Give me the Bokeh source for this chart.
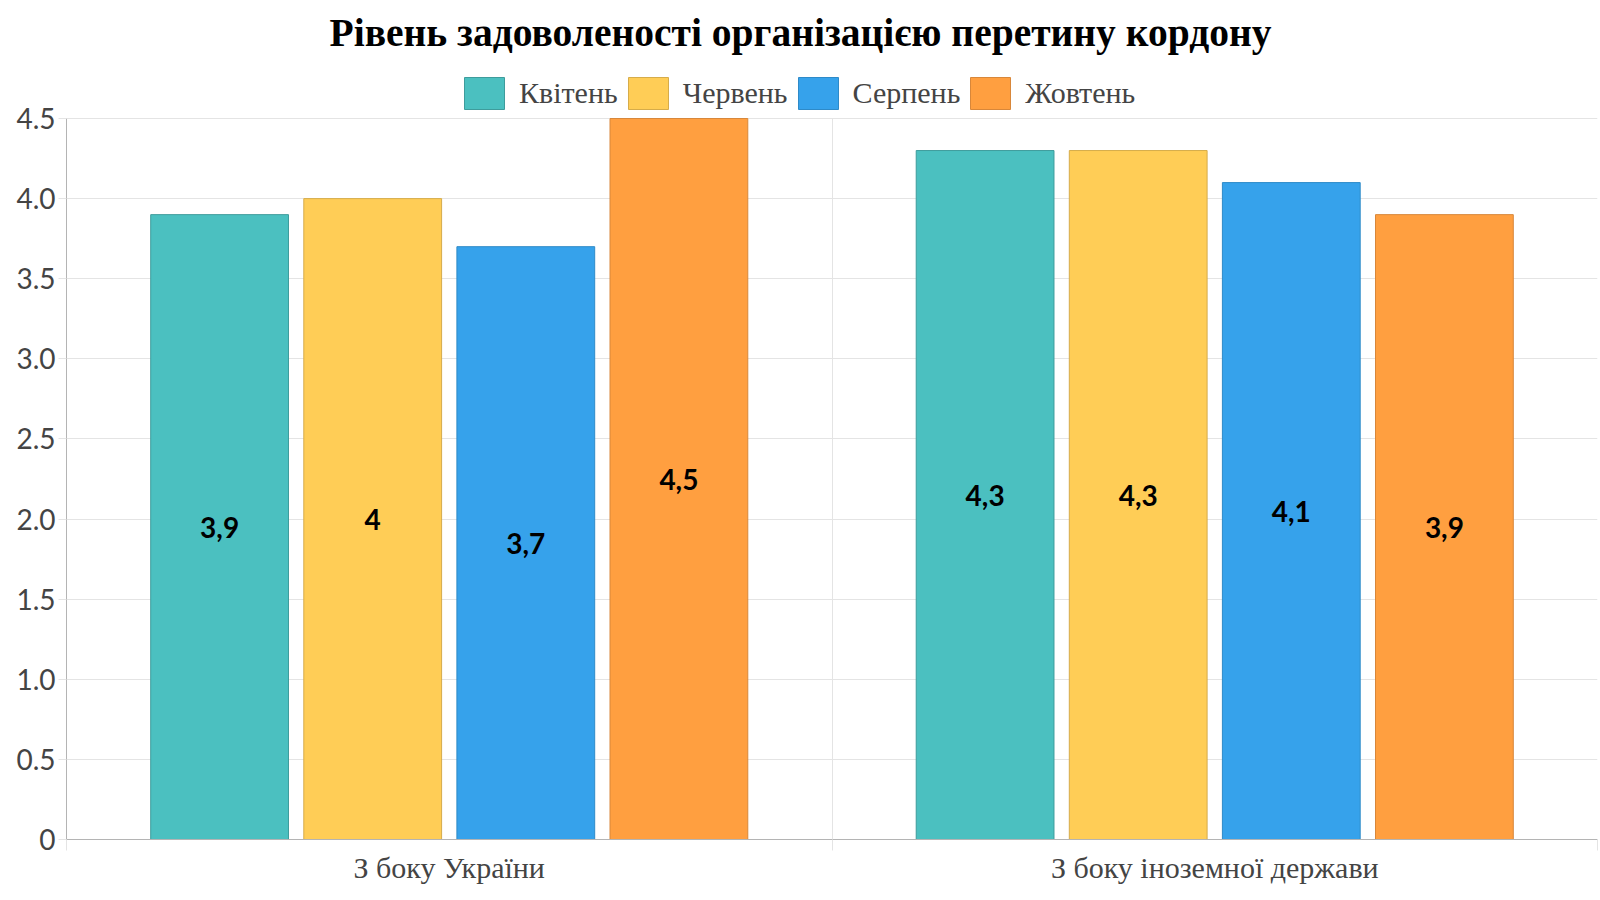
from bokeh.plotting import figure
from bokeh.models import (ColumnDataSource, Range1d, FixedTicker, LinearAxis, Grid,
                          Legend, LegendItem, CustomJSTickFormatter, Label)
from bokeh.transform import dodge
from bokeh.core.properties import value
from bokeh.embed import file_html
from bokeh.resources import INLINE

# ---- data ----
title_text = "Рівень задоволеності організацією перетину кордону"
categories = ["З боку України", "З боку іноземної держави"]
months = ["Квітень", "Червень", "Серпень", "Жовтень"]
kviten = [3.9, 4.3]
cherven = [4.0, 4.3]
serpen = [3.7, 4.1]
zhovten = [4.5, 3.9]
y_ticks = [0, 0.5, 1.0, 1.5, 2.0, 2.5, 3.0, 3.5, 4.0, 4.5]

series = [kviten, cherven, serpen, zhovten]
fills = ["#4BC0C0", "#FFCD56", "#36A2EB", "#FF9F40"]
borders = ["#3E9C9C", "#D6AC4A", "#2E8AC8", "#D8873A"]

# ---- layout (pixels) ----
W, H = 1600, 900
FRAME_LEFT, FRAME_RIGHT_GAP, BOTTOM_GAP = 66, 3, 61
HEADER_PX = 118                      # room kept above the value area for title + legend
FRAME_PX = H - BOTTOM_GAP            # frame runs from the top of the page to the x axis
Y_MAX = y_ticks[-1]
Y_TOP = Y_MAX * FRAME_PX / (FRAME_PX - HEADER_PX)

N_SERIES = len(months)
SLOT = 0.8 / N_SERIES                # width of one bar slot inside a category
BAR_W = SLOT * 0.9

# legend swatches are drawn inset by 10% of the glyph box on each side
KEY_W, KEY_H = 50, 40                # -> visible swatch 40 x 32


def fmt(v):
    return ("%g" % v).replace(".", ",")


p = figure(width=W, height=H,
           x_range=Range1d(0, len(categories)), y_range=Range1d(0, Y_TOP),
           x_axis_location=None, y_axis_location=None,
           output_backend="svg", toolbar_location=None,
           min_border_left=FRAME_LEFT, min_border_right=FRAME_RIGHT_GAP,
           min_border_bottom=BOTTOM_GAP, min_border_top=0)
p.outline_line_color = None
p.background_fill_color = "white"
p.border_fill_color = "white"
for g in p.grid:
    g.visible = False

boundaries = list(range(len(categories) + 1))
centers = [i + 0.5 for i in range(len(categories))]

# grid lines: category boundaries vertically, value ticks horizontally
p.add_layout(Grid(dimension=0, ticker=FixedTicker(ticks=boundaries),
                  cross_bounds=(0, Y_MAX),
                  grid_line_color="#e4e4e4", grid_line_width=1))
p.add_layout(Grid(dimension=1, ticker=FixedTicker(ticks=y_ticks),
                  grid_line_color="#e4e4e4", grid_line_width=1))

items = []
for j, (name, vals) in enumerate(zip(months, series)):
    src = ColumnDataSource(dict(x=centers, top=vals, mid=[v / 2 for v in vals],
                                label=[fmt(v) for v in vals]))
    off = (j - (N_SERIES - 1) / 2) * SLOT
    r = p.vbar(x=dodge("x", off, range=p.x_range), top="top", bottom=0, width=BAR_W,
               source=src, fill_color=fills[j], line_color=borders[j], line_width=1)
    p.text(x=dodge("x", off, range=p.x_range), y="mid", text="label", source=src,
           text_align="center", text_baseline="middle",
           text_font=value("Lato"), text_font_style="bold",
           text_font_size=value("28px"), text_color="#000000")
    items.append(LegendItem(label=name, renderers=[r]))

# y axis
yaxis = LinearAxis(ticker=FixedTicker(ticks=y_ticks), bounds=(0, Y_MAX),
                   formatter=CustomJSTickFormatter(code="return tick == 0 ? '0' : tick.toFixed(1);"),
                   axis_line_color="#b4b4b4", major_tick_line_color="#e4e4e4",
                   major_tick_out=8, major_tick_in=0, minor_tick_line_color=None,
                   major_label_standoff=3, major_label_text_font="Lato",
                   major_label_text_font_size="28px", major_label_text_color="#444444")
p.add_layout(yaxis, "left")

# x axis: category names at centres, short marks at category boundaries
xaxis = LinearAxis(ticker=FixedTicker(ticks=centers, minor_ticks=boundaries),
                   formatter=CustomJSTickFormatter(args=dict(labels=categories),
                                                   code="return labels[index];"),
                   axis_line_color="#b4b4b4", major_tick_line_color=None,
                   major_tick_out=0, major_tick_in=0,
                   minor_tick_line_color="#e4e4e4", minor_tick_out=11, minor_tick_in=0,
                   major_label_standoff=0,
                   major_label_text_font="Liberation Serif",
                   major_label_text_font_size="30px", major_label_text_color="#444444")
p.add_layout(xaxis, "below")

# title, centred on the page (screen units are measured from the frame's bottom-left)
p.add_layout(Label(x=W / 2 - FRAME_LEFT, y=FRAME_PX - 32, x_units="screen", y_units="screen",
                   text=title_text, text_align="center", text_baseline="middle",
                   text_font="Liberation Serif", text_font_style="bold",
                   text_font_size="39.5px", text_color="#000000"))

legend = Legend(items=items, orientation="horizontal",
                location=(459 - FRAME_LEFT, FRAME_PX - 113),
                glyph_width=KEY_W, glyph_height=KEY_H, label_standoff=10, spacing=5,
                label_text_font="Liberation Serif", label_text_font_size="30px",
                label_text_color="#444444", label_height=KEY_H,
                padding=0, margin=0, border_line_color=None, background_fill_alpha=0)
p.add_layout(legend)

open("out.html", "w").write(file_html(p, INLINE))
